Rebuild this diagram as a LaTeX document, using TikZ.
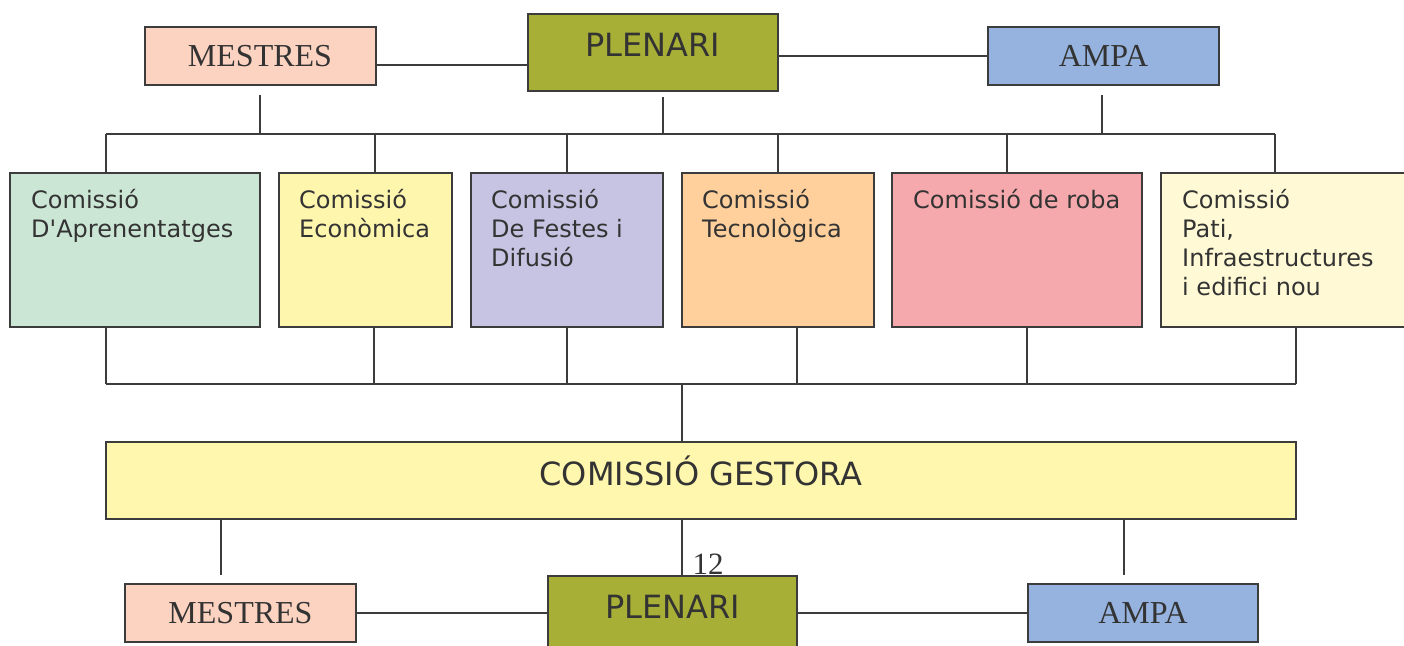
\documentclass[tikz,border=0pt]{standalone}
\usepackage{fontspec}
\setmainfont{Liberation Serif}
\newfontfamily\sansverd{DejaVu Sans}
\usetikzlibrary{calc}

\definecolor{mestrescol}{HTML}{FCD3C1}
\definecolor{plenaricol}{HTML}{A8AF37}
\definecolor{ampacol}{HTML}{95B3DE}
\definecolor{aprencol}{HTML}{CCE6D5}
\definecolor{econcol}{HTML}{FFF6AE}
\definecolor{festescol}{HTML}{C7C3E2}
\definecolor{tecnocol}{HTML}{FFD09C}
\definecolor{robacol}{HTML}{F6A9AC}
\definecolor{paticol}{HTML}{FFFAD5}
\definecolor{gestoracol}{HTML}{FFF7AE}
\definecolor{liniacol}{HTML}{3C3C3C}
\definecolor{textcol}{HTML}{333333}

\tikzset{
  caixa/.style={draw=liniacol, line width=2pt, inner sep=0pt, text=textcol},
  serifbox/.style={caixa, minimum width=231pt, minimum height=58pt,
    font=\fontsize{32}{38}\selectfont, text height=21.5pt, text depth=0pt},
  plenbox/.style={caixa, fill=plenaricol, minimum width=250pt, minimum height=77pt,
    font=\sansverd\fontsize{32}{38}\selectfont, text height=23.3pt, text depth=15pt},
  comissio/.style={caixa, minimum height=154pt},
  comtext/.style={anchor=base west, align=left, inner sep=0pt, text=textcol,
    font=\sansverd\fontsize{24}{29}\selectfont},
  connector/.style={draw=liniacol, line width=2pt},
}

\begin{document}
\begin{tikzpicture}[x=1pt, y=-1pt]
      \clip (0,0) rectangle (1404,645);

      % 1. fila de dalt
      \node[serifbox, fill=mestrescol] (mestres1) at (260,56) {MESTRES};
      \node[plenbox] (plenari1) at (653,52.5) {PLENARI};
      \node[serifbox, fill=ampacol] (ampa1) at (1103.5,56) {AMPA};

      \coordinate (mestres1e) at ($(mestres1.east)+(0,9)$);
      \draw[connector] (mestres1e) -- (mestres1e -| plenari1.west);
      \draw[connector] (ampa1.west) -- (ampa1.west -| plenari1.east);

      % 2. les comissions
      \node[comissio, fill=aprencol, minimum width=250pt] (com1) at (135,250) {};
      \node[comissio, fill=econcol, minimum width=173pt] (com2) at (365.5,250) {};
      \node[comissio, fill=festescol, minimum width=192pt] (com3) at (567,250) {};
      \node[comissio, fill=tecnocol, minimum width=192pt] (com4) at (778,250) {};
      \node[comissio, fill=robacol, minimum width=250pt] (com5) at (1017,250) {};
      \node[comissio, fill=paticol, minimum width=259pt] (com6) at (1290.5,250) {};

      % (l'ancoratge base va a la darrera línia)
      \node[comtext] (com1t) at (31,237) {Comissió\\D\textquotesingle Aprenentatges};
      \node[comtext] (com2t) at (299,237) {Comissió\\Econòmica};
      \node[comtext] (com3t) at (491,266) {Comissió\\De Festes i\\Difusió};
      \node[comtext] (com4t) at (702,237) {Comissió\\Tecnològica};
      \node[comtext] (com5t) at (913,208) {Comissió de roba};
      \node[comtext] (com6t) at (1182,295) {Comissió\\Pati,\\Infraestructures\\i edifici nou};

      % 3. bus de dalt
      \coordinate (busdalt) at (106,134);
      \coordinate (mestres1s) at ($(mestres1.south)+(0,9)$);
      \coordinate (plenari1s) at ($(plenari1.south)+(10,5)$);
      \coordinate (ampa1s) at ($(ampa1.south)+(-1.5,9)$);
      \draw[connector] (mestres1s) -- (mestres1s |- busdalt);
      \draw[connector] (plenari1s) -- (plenari1s |- busdalt);
      \draw[connector] (ampa1s) -- (ampa1s |- busdalt);
      \draw[connector] (busdalt) -- (1275,134);
      \foreach \n/\x in {com1/106, com2/375, com3/567, com4/778, com5/1007, com6/1275}
        \draw[connector] (\x,134) -- (\x,0 |- \n.north);

      % 4. bus de baix i comissió gestora
      \node[caixa, fill=gestoracol, minimum width=1190pt, minimum height=77pt,
        font=\sansverd\fontsize{32}{38}\selectfont, text height=23.3pt, text depth=14pt]
        (gestora) at (701,480.5) {COMISSIÓ GESTORA};

      \coordinate (busbaix) at (106,384);
      \foreach \n/\x in {com1/106, com2/374, com3/567, com4/797, com5/1027, com6/1296}
        \draw[connector] (\x,0 |- \n.south) -- (\x,384);
      \draw[connector] (busbaix) -- (1296,384);
      \draw[connector] (682,384) -- (682,0 |- gestora.north);

      % 5. fila de baix
      \node[serifbox, fill=mestrescol] (mestres2) at (240.5,613) {MESTRES};
      \node[plenbox, minimum width=249pt] (plenari2) at (672.5,614.5) {PLENARI};
      \node[serifbox, fill=ampacol, minimum width=230pt] (ampa2) at (1143,613) {AMPA};
      \node[anchor=base, inner sep=0pt, text=textcol, font=\fontsize{31}{36}\selectfont]
        (pagina) at (708,574) {12};

      \draw[connector] ($(gestora.south)+(-480,-2)$) -- ($(mestres2.north)+(-19.5,-8)$);
      \draw[connector] (682,0 |- gestora.south) -- (682,0 |- plenari2.north);
      \draw[connector] ($(gestora.south)+(423,-2)$) -- ($(ampa2.north)+(-19,-8)$);
      \draw[connector] (mestres2.east) -- (mestres2.east -| plenari2.west);
      \draw[connector] (ampa2.west) -- (ampa2.west -| plenari2.east);
\end{tikzpicture}
\end{document}
